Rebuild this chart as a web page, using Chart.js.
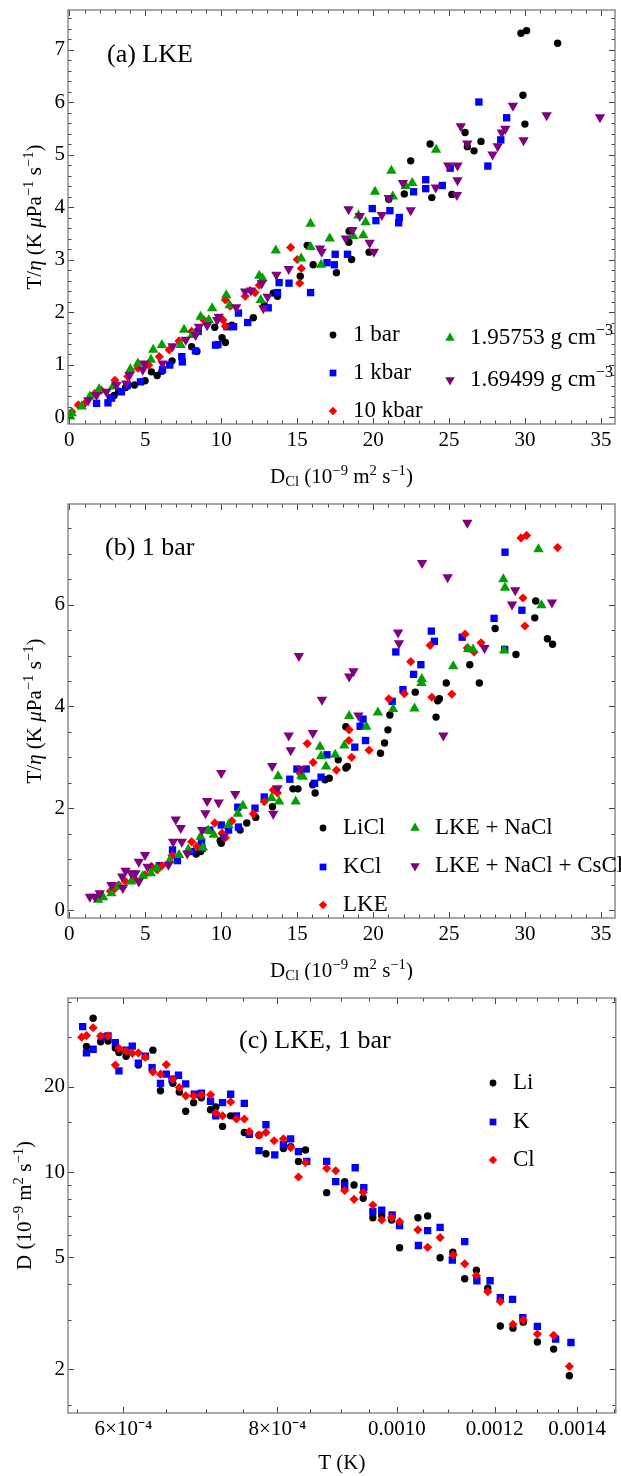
<!DOCTYPE html>
<html>
<head>
<meta charset="utf-8">
<script src="https://cdn.jsdelivr.net/npm/chart.js@4.4.0/dist/chart.umd.min.js"></script>
<style>
  html, body { margin: 0; padding: 0; background: #fff; }
  canvas { display: block; }
</style>
</head>
<body>
<canvas id="chart-a" width="621" height="490"></canvas>
<canvas id="chart-b" width="621" height="490"></canvas>
<canvas id="chart-c" width="621" height="496"></canvas>
<script>
// ---- panel (a): LKE at several state points, [D_Cl, T/eta] ----
const lke1bar = [
  [2.7, 0.37], [2.95, 0.41], [3.25, 0.49], [3.7, 0.56], [4.29, 0.61], [4.98, 0.69],
  [5.4, 0.86], [5.78, 0.79], [6.09, 0.87], [6.76, 1.07], [8.05, 1.34], [8.4, 1.25],
  [9.57, 1.71], [10.05, 1.51], [10.27, 1.42], [10.7, 1.75], [12.11, 1.89], [12.83, 2.13],
  [13.42, 2.36], [13.7, 2.3], [15.2, 2.68], [15.66, 3.27], [16.05, 2.9], [17.58, 2.75],
  [18.4, 3.33], [18.42, 3.54], [18.58, 3.0], [19.73, 3.14], [21.03, 4.15], [22.05, 4.25],
  [22.47, 4.88], [23.75, 5.2], [23.86, 4.18], [25.18, 4.24], [26.05, 5.42], [26.2, 5.15],
  [26.64, 5.07], [27.1, 5.25], [29.73, 7.31], [29.86, 6.13], [29.99, 5.58], [30.1, 7.36],
  [32.14, 7.12],
];
const lke1kbar = [
  [1.79, 0.26], [2.54, 0.27], [2.77, 0.36], [3.42, 0.48], [3.81, 0.6], [4.68, 0.67],
  [6.13, 0.9], [6.61, 0.99], [7.4, 1.15], [7.44, 1.05], [8.3, 1.26], [8.48, 1.63],
  [9.62, 1.37], [9.78, 1.38], [10.37, 1.72], [10.81, 1.72], [11.13, 1.98], [11.74, 1.8],
  [13.09, 2.08], [13.7, 2.37], [13.81, 2.56], [14.46, 2.55], [15.88, 2.37], [16.96, 2.94],
  [17.44, 2.9], [17.5, 3.1], [18.31, 3.1], [19.94, 3.97], [20.18, 3.74], [21.1, 3.93],
  [21.68, 3.7], [21.72, 3.8], [22.66, 4.29], [23.46, 4.35], [23.46, 4.52], [24.55, 4.41],
  [25.07, 4.74], [26.96, 6.0], [27.55, 4.78], [28.4, 5.28], [28.79, 5.7],
];
const lke10kbar = [
  [0.16, 0.1], [0.59, 0.23], [1.02, 0.26], [1.68, 0.45], [2.11, 0.51], [3.0, 0.7],
  [3.85, 0.77], [4.51, 0.93], [5.22, 0.99], [5.92, 1.15], [6.57, 1.28], [7.22, 1.45],
  [8.05, 1.63], [8.85, 1.85], [10.11, 1.85], [10.27, 1.73], [10.27, 2.23], [10.59, 2.11],
  [11.57, 2.3], [11.9, 2.41], [12.22, 2.37], [12.5, 2.51], [14.57, 3.23], [15.0, 3.0],
  [15.16, 2.55], [15.27, 2.83],
];
const lkeRho195753 = [
  [0.05, 0.01], [0.16, 0.07], [0.81, 0.2], [1.35, 0.39], [1.96, 0.53], [2.87, 0.58],
  [4.02, 0.91], [4.51, 1.02], [5.37, 1.09], [5.52, 1.28], [6.09, 1.37], [7.33, 1.37],
  [7.55, 1.66], [8.09, 1.56], [8.64, 1.91], [9.18, 1.85], [9.4, 2.07], [10.33, 2.32],
  [10.55, 2.13], [12.5, 2.69], [12.6, 2.23], [12.72, 2.64], [13.59, 3.17], [15.26, 3.02],
  [15.88, 3.24], [15.88, 3.68], [16.57, 2.9], [17.14, 3.4], [18.68, 3.45], [19.03, 3.84],
  [19.35, 3.46], [19.5, 3.71], [20.12, 4.29], [21.2, 4.69], [21.29, 4.2], [22.14, 4.4],
  [22.57, 4.46], [24.14, 5.09],
];
const lkeRho169499 = [
  [1.24, 0.32], [1.79, 0.42], [2.44, 0.48], [3.09, 0.61], [3.74, 0.64], [3.96, 0.8],
  [4.83, 0.9], [4.94, 1.02], [6.13, 1.02], [6.79, 1.35], [7.66, 1.47], [8.31, 1.56],
  [8.53, 1.72], [9.07, 1.75], [9.73, 1.85], [9.83, 1.91], [10.98, 2.09], [11.57, 2.39],
  [11.95, 2.41], [12.66, 2.55], [12.77, 2.07], [13.05, 2.29], [13.63, 2.71], [14.44, 2.82],
  [16.5, 3.21], [16.61, 3.15], [18.2, 3.4], [18.38, 3.96], [18.64, 3.56], [19.12, 3.83],
  [19.77, 3.32], [20.05, 3.15], [20.57, 3.85], [21.03, 4.17], [21.96, 4.46], [22.47, 3.94],
  [24.12, 4.37], [24.94, 4.79], [25.51, 4.23], [25.55, 4.51], [25.55, 4.79], [25.77, 5.54],
  [26.2, 5.21], [27.86, 5.0], [28.2, 5.16], [28.47, 5.42], [28.7, 5.49], [29.2, 5.93],
  [29.9, 5.27], [31.42, 5.75], [34.93, 5.71],
];

// ---- panel (b): 1 bar, [D_Cl, T/eta] (LKE reuses lke1bar) ----
const liCl = [
  [8.35, 1.1], [8.64, 1.15], [9.93, 1.36], [10.0, 1.31], [11.24, 1.57], [11.68, 1.71],
  [12.27, 1.82], [13.37, 2.03], [14.72, 2.38], [15.05, 2.38], [16.02, 2.46], [16.18, 2.3],
  [16.83, 2.56], [17.11, 2.59], [17.7, 2.95], [18.2, 2.79], [18.3, 2.82], [18.2, 3.6],
  [20.48, 3.08], [20.75, 3.28], [20.97, 3.54], [21.1, 3.83], [22.77, 4.28], [24.14, 3.79],
  [24.25, 4.11], [24.36, 4.15], [24.81, 4.46], [26.36, 4.82], [26.99, 4.46], [28.03, 5.53],
  [29.4, 5.02], [30.64, 5.74], [30.7, 6.07], [31.47, 5.33], [31.81, 5.22],
];
const kCl = [
  [5.92, 0.87], [6.79, 1.18], [7.11, 0.97], [8.05, 1.15], [8.7, 1.34], [8.74, 1.21],
  [9.24, 1.57], [10.0, 1.67], [10.48, 1.57], [11.09, 2.02], [11.13, 1.63], [12.22, 2.0],
  [12.83, 2.22], [14.51, 2.57], [14.98, 2.77], [15.59, 2.77], [16.14, 2.49], [16.57, 2.61],
  [16.96, 3.05], [18.79, 3.2], [19.14, 3.61], [19.33, 3.75], [19.5, 3.33], [21.25, 4.1],
  [21.49, 5.07], [21.96, 4.33], [22.66, 4.63], [23.14, 4.82], [23.83, 5.48], [24.03, 5.28],
  [25.86, 5.36], [27.96, 5.73], [28.66, 5.12], [28.68, 7.03], [29.79, 5.89],
];
const lkeNaCl = [
  [1.89, 0.2], [2.22, 0.25], [2.77, 0.33], [3.26, 0.46], [4.07, 0.56], [4.83, 0.67],
  [5.37, 0.72], [5.74, 0.82], [6.61, 0.98], [7.22, 1.08], [7.83, 1.19], [8.64, 1.44],
  [8.79, 1.23], [9.14, 1.56], [9.5, 1.48], [10.48, 1.67], [11.09, 1.89], [11.42, 2.05],
  [13.31, 2.2], [13.74, 2.63], [13.81, 2.13], [14.9, 2.13], [15.27, 2.64], [15.37, 2.62],
  [16.5, 3.21], [16.57, 3.02], [16.9, 2.82], [17.5, 3.05], [18.1, 3.23], [18.42, 3.81],
  [19.55, 3.6], [20.31, 3.88], [21.31, 3.95], [22.72, 3.96], [23.18, 4.46], [23.2, 4.54],
  [25.27, 4.79], [26.25, 5.13], [26.57, 5.12], [28.62, 5.1], [28.57, 6.5], [28.68, 6.33],
  [30.88, 7.09], [31.08, 5.99],
];
const lkeNaClCsCl = [
  [1.35, 0.26], [1.68, 0.26], [2.0, 0.33], [2.77, 0.49], [3.48, 0.66], [3.52, 0.43],
  [3.7, 0.77], [4.07, 0.72], [4.35, 0.72], [4.57, 0.56], [4.57, 0.95], [4.98, 1.08],
  [5.15, 0.85], [6.52, 0.89], [6.83, 1.34], [7.0, 1.78], [7.33, 1.61], [7.4, 1.34],
  [7.76, 1.11], [8.74, 1.57], [8.96, 1.9], [9.07, 2.14], [9.83, 2.11], [10.0, 2.69],
  [10.16, 1.44], [10.92, 2.28], [13.35, 2.83], [13.42, 1.89], [13.7, 2.39], [14.44, 3.43],
  [14.57, 3.14], [15.11, 4.99], [15.27, 2.77], [16.03, 3.48], [16.63, 4.13], [18.42, 4.59],
  [18.7, 4.69], [19.03, 3.82], [21.64, 5.45], [21.7, 5.24], [23.22, 6.82], [24.62, 3.43],
  [24.9, 6.54], [26.2, 7.61], [27.33, 5.15], [29.14, 6.0], [29.35, 6.28], [31.77, 6.04],
];

// ---- panel (c): LKE 1 bar, [T axis value, D] ----
const diffLi = [
  [5.60e-4, 27.8], [5.67e-4, 35.0], [5.75e-4, 28.9], [5.83e-4, 29.1], [5.91e-4, 27.5],
  [5.95e-4, 26.5], [6.03e-4, 25.7], [6.17e-4, 23.9], [6.34e-4, 27.0], [6.43e-4, 19.4],
  [6.58e-4, 20.6], [6.66e-4, 19.2], [6.74e-4, 16.4], [6.84e-4, 17.6], [6.94e-4, 18.3],
  [7.06e-4, 16.6], [7.13e-4, 17.0], [7.22e-4, 14.5], [7.33e-4, 15.8], [7.52e-4, 13.8],
  [7.73e-4, 13.5], [7.83e-4, 11.6], [8.09e-4, 12.1], [8.2e-4, 12.3], [8.32e-4, 10.9],
  [8.43e-4, 11.96], [8.77e-4, 8.45], [9.07e-4, 9.24], [9.23e-4, 8.99], [9.39e-4, 8.07],
  [9.56e-4, 6.89], [9.72e-4, 7.0], [9.9e-4, 6.76], [1.005e-3, 5.39], [1.04e-3, 6.89],
  [1.059e-3, 6.99], [1.084e-3, 4.97], [1.11e-3, 5.2], [1.135e-3, 4.19], [1.16e-3, 4.49],
  [1.185e-3, 3.88], [1.213e-3, 2.85], [1.242e-3, 2.8], [1.266e-3, 2.94], [1.3e-3, 2.5],
  [1.34e-3, 2.36], [1.38e-3, 1.9],
];
const diffK = [
  [5.56e-4, 32.7], [5.60e-4, 26.4], [5.67e-4, 27.2], [5.76e-4, 30.1], [5.83e-4, 30.3],
  [5.91e-4, 28.7], [5.95e-4, 22.8], [6.03e-4, 27.0], [6.1e-4, 27.9], [6.17e-4, 24.3],
  [6.25e-4, 25.7], [6.33e-4, 23.4], [6.43e-4, 20.6], [6.5e-4, 22.2], [6.57e-4, 21.3],
  [6.65e-4, 22.0], [6.74e-4, 20.5], [6.85e-4, 18.85], [6.94e-4, 19.0], [7.06e-4, 17.8],
  [7.13e-4, 15.8], [7.22e-4, 17.6], [7.33e-4, 18.85], [7.41e-4, 15.8], [7.52e-4, 17.5],
  [7.59e-4, 13.6], [7.73e-4, 11.9], [7.83e-4, 14.7], [7.96e-4, 11.5], [8.09e-4, 12.5],
  [8.2e-4, 13.1], [8.32e-4, 11.8], [8.45e-4, 10.9], [8.77e-4, 10.9], [8.92e-4, 9.24],
  [9.07e-4, 8.94], [9.25e-4, 10.35], [9.4e-4, 8.8], [9.56e-4, 7.24], [9.72e-4, 7.33],
  [9.91e-4, 7.04], [1.005e-3, 6.46], [1.041e-3, 5.49], [1.059e-3, 6.2], [1.084e-3, 6.37],
  [1.109e-3, 4.88], [1.135e-3, 5.67], [1.161e-3, 4.12], [1.19e-3, 4.12], [1.213e-3, 3.59],
  [1.241e-3, 3.54], [1.265e-3, 3.05], [1.3e-3, 2.84], [1.345e-3, 2.56], [1.384e-3, 2.49],
];
const diffCl = [
  [5.55e-4, 30.0], [5.60e-4, 30.4], [5.67e-4, 32.4], [5.75e-4, 30.3], [5.83e-4, 30.3],
  [5.91e-4, 23.9], [5.95e-4, 27.4], [6.03e-4, 26.8], [6.1e-4, 26.3], [6.17e-4, 26.4],
  [6.25e-4, 25.5], [6.34e-4, 22.6], [6.43e-4, 22.2], [6.5e-4, 24.0], [6.58e-4, 21.3],
  [6.66e-4, 19.9], [6.74e-4, 18.6], [6.84e-4, 18.6], [6.94e-4, 18.75], [7.06e-4, 18.75],
  [7.13e-4, 16.2], [7.22e-4, 15.8], [7.33e-4, 17.7], [7.41e-4, 15.4], [7.52e-4, 15.4],
  [7.59e-4, 13.9], [7.73e-4, 13.5], [7.83e-4, 13.8], [7.95e-4, 12.9], [8.09e-4, 13.1],
  [8.2e-4, 12.2], [8.32e-4, 9.6], [8.43e-4, 10.8], [8.77e-4, 10.3], [8.92e-4, 10.1],
  [9.07e-4, 8.6], [9.23e-4, 8.0], [9.39e-4, 8.47], [9.56e-4, 7.64], [9.72e-4, 6.76],
  [9.9e-4, 6.89], [1.005e-3, 6.67], [1.04e-3, 6.24], [1.059e-3, 5.41], [1.084e-3, 5.86],
  [1.111e-3, 5.09], [1.135e-3, 4.73], [1.16e-3, 4.3], [1.185e-3, 3.77], [1.213e-3, 3.48],
  [1.242e-3, 2.89], [1.266e-3, 2.99], [1.3e-3, 2.67], [1.34e-3, 2.64], [1.38e-3, 2.05],
];

// ---- ticks ----
const dTicks = [0, 5, 10, 15, 20, 25, 30, 35];
const aYTicks = [0, 1, 2, 3, 4, 5, 6, 7];
const bYTicks = [0, 2, 4, 6];
const cXTicks = [6e-4, 8e-4, 1.0e-3, 1.2e-3, 1.4e-3];
const cXLabels = ['6×10⁻⁴', '8×10⁻⁴', '0.0010', '0.0012', '0.0014'];
const cXMinor = [5.5e-4, 6.5e-4, 7e-4, 7.5e-4, 8.5e-4, 9e-4, 9.5e-4, 1.05e-3, 1.1e-3,
  1.15e-3, 1.25e-3, 1.3e-3, 1.35e-3, 1.45e-3, 1.5e-3];
const cYTicks = [2, 5, 10, 20];
const cYMinor = [1.5, 3, 4, 6, 7, 8, 9, 15, 30, 40];

const FONT = '"Liberation Serif", "Times New Roman", serif';

const BLACK = { shape: 'circle', radius: 3.7, color: '#000000' };
const BLUE = { shape: 'rect', radius: 5.2, color: '#0000ff' };
const RED = { shape: 'rectRot', radius: 4.6, color: '#ff0000' };
const GREEN = { shape: 'triangle', radius: 6, color: '#00a000' };
const PURPLE = { shape: 'triangle', radius: 6, rotation: 180, color: '#800080' };

const SUP = (t) => ({ t, sup: true });
const DCL_TITLE = ['D', { t: 'Cl', sub: true }, ' (10', SUP('−9'), ' m', SUP('2'), ' s', SUP('−1'), ')'];
const TETA_TITLE = ['T/', { t: 'η', it: true }, ' (K ', { t: 'μ', it: true }, 'Pa', SUP('−1'), ' s', SUP('−1'), ')'];

function steps(from, to, step, skipEvery) {
  const out = [];
  for (let i = 0; from + i * step <= to + 1e-9; i++) {
    if (i % skipEvery !== 0) out.push(+(from + i * step).toFixed(6));
  }
  return out;
}

function richFont(size, p) {
  const small = p.sup || p.sub;
  return (p.it ? 'italic ' : '') + (small ? size * 0.7 : size) + 'px ' + FONT;
}

function drawRich(ctx, parts, x, y, size, align, rotate) {
  ctx.save();
  ctx.translate(x, y);
  if (rotate) ctx.rotate(-Math.PI / 2);
  ctx.textBaseline = 'alphabetic';
  ctx.textAlign = 'left';
  ctx.fillStyle = '#000';
  const items = parts.map((p) => (typeof p === 'string' ? { t: p } : { ...p }));
  let total = 0;
  items.forEach((p) => {
    ctx.font = richFont(size, p);
    p.w = ctx.measureText(p.t).width;
    total += p.w;
  });
  let cx = align === 'center' ? -total / 2 : 0;
  items.forEach((p) => {
    ctx.font = richFont(size, p);
    const dy = p.sup ? -size * 0.4 : p.sub ? size * 0.12 : 0;
    ctx.fillText(p.t, cx, dy);
    cx += p.w;
  });
  ctx.restore();
}

function decoPlugin(cfg) {
  return {
    id: 'deco',
    afterDraw(chart) {
      const { ctx, chartArea: a } = chart;
      const xs = chart.scales.x;
      const ys = chart.scales.y;
      ctx.save();
      ctx.strokeStyle = '#444';
      ctx.lineWidth = 1;
      ctx.beginPath();
      const xTick = (v, len) => {
        if (v < xs.min || v > xs.max) return;
        const p = Math.round(xs.getPixelForValue(v)) + 0.5;
        ctx.moveTo(p, a.bottom);
        ctx.lineTo(p, a.bottom - len);
        ctx.moveTo(p, a.top);
        ctx.lineTo(p, a.top + len);
      };
      const yTick = (v, len) => {
        if (v < ys.min || v > ys.max) return;
        const p = Math.round(ys.getPixelForValue(v)) + 0.5;
        ctx.moveTo(a.left, p);
        ctx.lineTo(a.left + len, p);
        ctx.moveTo(a.right, p);
        ctx.lineTo(a.right - len, p);
      };
      cfg.xTicks.forEach((v) => xTick(v, 6));
      cfg.xMinor.forEach((v) => xTick(v, 3.5));
      cfg.yTicks.forEach((v) => yTick(v, 6));
      cfg.yMinor.forEach((v) => yTick(v, 3.5));
      ctx.stroke();

      ctx.strokeStyle = '#7a7a7a';
      ctx.lineWidth = 1.3;
      ctx.strokeRect(a.left, a.top, a.right - a.left, a.bottom - a.top);

      drawRich(ctx, [cfg.title], cfg.titlePos[0], cfg.titlePos[1], 26, 'left');
      drawRich(ctx, cfg.xTitle, (a.left + a.right) / 2, cfg.xTitleY, 21, 'center');
      drawRich(ctx, cfg.yTitle, cfg.yTitleX, (a.top + a.bottom) / 2, 21, 'center', true);

      cfg.legend.forEach((item) => {
        const s = cfg.series[item.index].style;
        ctx.fillStyle = s.color;
        Chart.helpers.drawPoint(ctx, {
          pointStyle: s.shape,
          radius: s.radius * 0.92,
          rotation: s.rotation || 0,
          borderWidth: 0,
        }, item.x, item.y);
        const label = cfg.series[item.index].label;
        drawRich(ctx, Array.isArray(label) ? label : [label], item.x + 20, item.y + 6, 23, 'left');
      });
      ctx.restore();
    },
  };
}

function makePanel(canvasId, cfg) {
  const n = cfg.series.length;
  const datasets = cfg.series.map((s, i) => ({
    data: s.data.map(([x, y]) => ({ x, y })),
    pointStyle: s.style.shape,
    pointRadius: s.style.radius,
    pointRotation: s.style.rotation || 0,
    pointBackgroundColor: s.style.color,
    pointBorderWidth: 0,
    showLine: false,
    order: n - i,
  }));

  const tickFont = { family: FONT, size: 21 };

  return new Chart(document.getElementById(canvasId), {
    type: 'scatter',
    data: { datasets },
    options: {
      responsive: false,
      animation: false,
      events: [],
      layout: { padding: { top: cfg.top, right: 1, left: 0, bottom: 0 } },
      plugins: { legend: { display: false }, tooltip: { enabled: false } },
      scales: {
        x: {
          type: cfg.xType,
          min: cfg.xRange[0],
          max: cfg.xRange[1],
          bounds: 'data',
          grid: { display: false, drawTicks: false },
          border: { display: false },
          ticks: {
            font: tickFont,
            color: '#000',
            padding: 4,
            maxRotation: 0,
            autoSkip: false,
            callback: (v, i) => cfg.xLabels[i],
          },
          afterBuildTicks: (s) => { s.ticks = cfg.xTicks.map((v) => ({ value: v })); },
          afterFit: (s) => { s.height = cfg.xHeight; s.paddingLeft = 0; s.paddingRight = 0; },
        },
        y: {
          type: cfg.yType,
          min: cfg.yRange[0],
          max: cfg.yRange[1],
          bounds: 'data',
          grid: { display: false, drawTicks: false },
          border: { display: false },
          ticks: {
            font: tickFont,
            color: '#000',
            padding: 3,
            autoSkip: false,
            callback: (v, i) => cfg.yLabels[i],
          },
          afterBuildTicks: (s) => { s.ticks = cfg.yTicks.map((v) => ({ value: v })); },
          afterFit: (s) => { s.width = 68; s.paddingTop = 0; s.paddingBottom = 0; },
        },
      },
    },
    plugins: [decoPlugin(cfg)],
  });
}

makePanel('chart-a', {
  series: [
    { label: '1 bar', data: lke1bar, style: BLACK },
    { label: '1 kbar', data: lke1kbar, style: BLUE },
    { label: '10 kbar', data: lke10kbar, style: RED },
    { label: ['1.95753 g cm', SUP('−3')], data: lkeRho195753, style: GREEN },
    { label: ['1.69499 g cm', SUP('−3')], data: lkeRho169499, style: PURPLE },
  ],
  legend: [
    { index: 0, x: 333, y: 335 }, { index: 1, x: 333, y: 373 }, { index: 2, x: 333, y: 411 },
    { index: 3, x: 450, y: 338 }, { index: 4, x: 450, y: 380 },
  ],
  top: 10, xHeight: 66,
  xType: 'linear', xRange: [-0.09, 35.92], xTicks: dTicks, xLabels: dTicks.map(String),
  xMinor: steps(0, 35, 1, 5),
  yType: 'linear', yRange: [-0.133, 7.753], yTicks: aYTicks, yLabels: aYTicks.map(String),
  yMinor: steps(0, 7.6, 0.2, 5),
  title: '(a) LKE', titlePos: [107, 62],
  xTitle: DCL_TITLE, xTitleY: 483,
  yTitle: TETA_TITLE, yTitleX: 41,
});

makePanel('chart-b', {
  series: [
    { label: 'LiCl', data: liCl, style: BLACK },
    { label: 'KCl', data: kCl, style: BLUE },
    { label: 'LKE', data: lke1bar, style: RED },
    { label: 'LKE + NaCl', data: lkeNaCl, style: GREEN },
    { label: 'LKE + NaCl + CsCl', data: lkeNaClCsCl, style: PURPLE },
  ],
  legend: [
    { index: 0, x: 323, y: 338 }, { index: 1, x: 323, y: 377 }, { index: 2, x: 323, y: 415 },
    { index: 3, x: 415, y: 338 }, { index: 4, x: 415, y: 376 },
  ],
  top: 14, xHeight: 62,
  xType: 'linear', xRange: [-0.09, 35.92], xTicks: dTicks, xLabels: dTicks.map(String),
  xMinor: steps(0, 35, 1, 5),
  yType: 'linear', yRange: [-0.157, 7.977], yTicks: bYTicks, yLabels: bYTicks.map(String),
  yMinor: steps(0, 7.5, 0.5, 4),
  title: '(b) 1 bar', titlePos: [105, 65],
  xTitle: DCL_TITLE, xTitleY: 487,
  yTitle: TETA_TITLE, yTitleX: 41,
});

makePanel('chart-c', {
  series: [
    { label: 'Li', data: diffLi, style: BLACK },
    { label: 'K', data: diffK, style: BLUE },
    { label: 'Cl', data: diffCl, style: RED },
  ],
  legend: [
    { index: 0, x: 493, y: 103 }, { index: 1, x: 493, y: 142 }, { index: 2, x: 493, y: 180 },
  ],
  top: 18, xHeight: 63,
  xType: 'logarithmic', xRange: [5.41e-4, 1.505e-3], xTicks: cXTicks, xLabels: cXLabels,
  xMinor: cXMinor,
  yType: 'logarithmic', yRange: [1.402, 41.3], yTicks: cYTicks, yLabels: cYTicks.map(String),
  yMinor: cYMinor,
  title: '(c) LKE, 1 bar', titlePos: [239, 68],
  xTitle: ['T (K)'], xTitleY: 489,
  yTitle: ['D (10', SUP('−9'), ' m', SUP('2'), ' s', SUP('−1'), ')'], yTitleX: 31,
});
</script>
</body>
</html>
